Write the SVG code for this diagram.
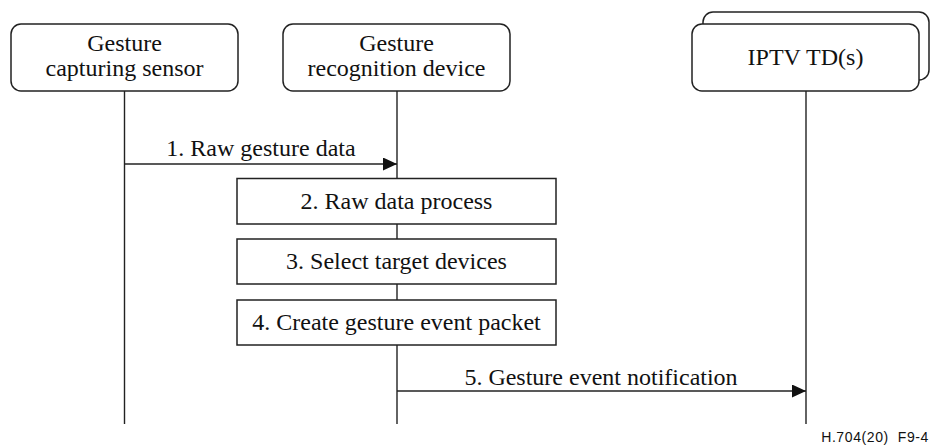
<svg xmlns="http://www.w3.org/2000/svg" width="930" height="446" viewBox="0 0 930 446">
  <style>
    .box { fill: #ffffff; stroke: #222222; stroke-width: 1.5; }
    .life { stroke: #222222; stroke-width: 1.4; fill: none; }
    .msg { stroke: #222222; stroke-width: 1.4; fill: none; marker-end: url(#arrow); }
    .t { font-family: "Liberation Serif", "Times New Roman", serif; font-size: 24px; fill: #111111; text-anchor: middle; }
    .tag { font-family: "Liberation Sans", Arial, sans-serif; font-size: 14px; letter-spacing: 0.6px; fill: #111111; text-anchor: end; white-space: pre; }
  </style>
  <defs>
    <marker id="arrow" markerWidth="14" markerHeight="13" refX="14" refY="6.5" orient="auto" markerUnits="userSpaceOnUse">
      <path d="M0,0 L14,6.5 L0,13 Z" fill="#111111"/>
    </marker>
  </defs>
  <rect width="930" height="446" fill="#ffffff"/>

  <!-- lifelines and messages -->
  <g id="connectors">
    <line class="life" x1="124.5" y1="91" x2="124.5" y2="424"/>
    <line class="life" x1="397" y1="91" x2="397" y2="424"/>
    <line class="life" x1="806" y1="91" x2="806" y2="424"/>
    <line class="msg" x1="124.5" y1="164" x2="397" y2="164"/>
    <text class="t" x="261" y="156">1. Raw gesture data</text>
    <line class="msg" x1="397" y1="391" x2="806" y2="391"/>
    <text class="t" x="601" y="385">5. Gesture event notification</text>
  </g>

  <g id="sensor">
    <rect class="box" x="11" y="24" width="227" height="67" rx="10"/>
    <text class="t" x="124.5" y="51">Gesture</text>
    <text class="t" x="124.5" y="76">capturing sensor</text>
  </g>

  <g id="recognizer">
    <rect class="box" x="283" y="24" width="227" height="67" rx="10"/>
    <text class="t" x="396.5" y="51">Gesture</text>
    <text class="t" x="396.5" y="76">recognition device</text>
  </g>

  <g id="iptv-td">
    <rect class="box" x="703" y="12" width="226" height="68" rx="10"/>
    <rect class="box" x="692" y="24" width="227" height="67" rx="10"/>
    <text class="t" x="805.5" y="65">IPTV TD(s)</text>
  </g>

  <g id="step2">
    <rect class="box" x="237" y="178.5" width="319" height="45.5"/>
    <text class="t" x="396.5" y="208.5">2. Raw data process</text>
  </g>

  <g id="step3">
    <rect class="box" x="237" y="239" width="319" height="45"/>
    <text class="t" x="396.5" y="269">3. Select target devices</text>
  </g>

  <g id="step4">
    <rect class="box" x="237" y="300" width="319" height="45"/>
    <text class="t" x="396.5" y="330">4. Create gesture event packet</text>
  </g>

  <text class="tag" x="929" y="442">H.704(20)  F9-4</text>
</svg>
